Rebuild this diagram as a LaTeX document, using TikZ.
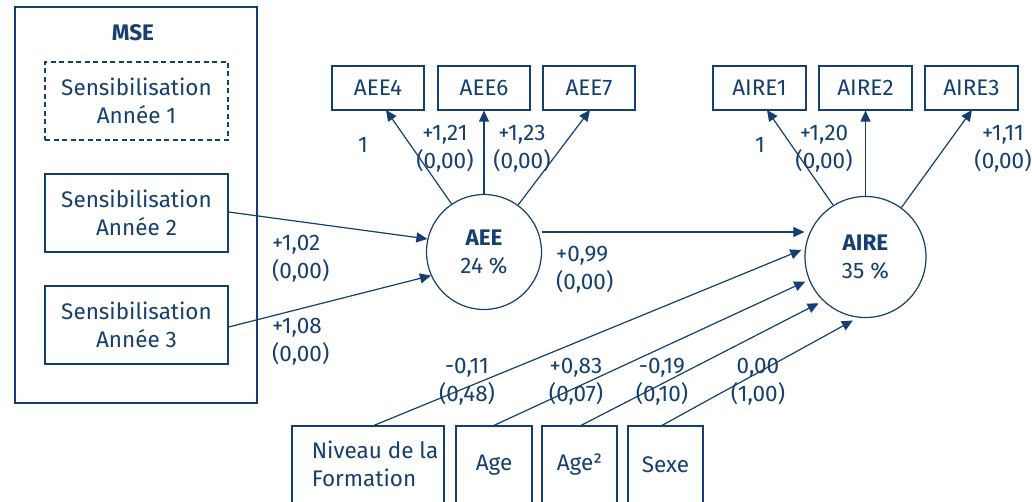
\documentclass[tikz,border=0pt]{standalone}
\usepackage{fontspec}
\setmainfont{Fira Sans}
\usetikzlibrary{arrows.meta}
\definecolor{ink}{HTML}{143F6E}
\begin{document}
\begin{tikzpicture}[x=1pt,y=-1pt,
  every node/.style={text=ink,font=\fontsize{22.5}{28}\selectfont,inner sep=0pt},
  box/.style={draw=ink,line width=1.2pt,align=center},
  latent/.style={draw=ink,circle,line width=1.2pt,align=center},
  conn/.style={draw=ink,line width=1.2pt,-{Triangle[length=11pt,width=10pt]}},
  lab/.style={align=center}]
\useasboundingbox[fill=white] (0,0) rectangle (1032,502);
% MSE group
\node[box,minimum width=242,minimum height=396] (mse) at (136,205) {};
\node[font=\fontsize{22.5}{28}\selectfont\bfseries] (msel) at (133,33) {MSE};
\node[box,dash pattern=on 5pt off 3.5pt,minimum width=183,minimum height=78] (s1) at (136.5,101) {\fontsize{22.5}{29}\selectfont Sensibilisation\\Année 1};
\node[box,minimum width=183,minimum height=78] (s2) at (136.5,213) {\fontsize{22.5}{29}\selectfont Sensibilisation\\Année 2};
\node[box,minimum width=183,minimum height=78] (s3) at (136.5,325) {\fontsize{22.5}{29}\selectfont Sensibilisation\\Année 3};
% latent
\node[latent,minimum size=115] (aee) at (484,252) {\textbf{AEE}\\24 \%};
\node[latent,minimum size=121] (aire) at (865.5,257) {\textbf{AIRE}\\35 \%};
% indicators
\node[box,minimum width=92,minimum height=44] (aee4) at (378,88) {AEE4};
\node[box,minimum width=92,minimum height=44] (aee6) at (484,88) {AEE6};
\node[box,minimum width=92,minimum height=44] (aee7) at (589,88) {AEE7};
\node[box,minimum width=93,minimum height=44] (aire1) at (759.5,88) {AIRE1};
\node[box,minimum width=93,minimum height=44] (aire2) at (865.5,88) {AIRE2};
\node[box,minimum width=93,minimum height=44] (aire3) at (971.5,88) {AIRE3};
% covariates
\node[box,minimum width=152,minimum height=90] (niv) at (368,471) {};
\node[align=left] (nivt) at (375,463.5) {Niveau de la\\Formation};
\node[box,minimum width=76,minimum height=90] (age) at (494,471) {};
\node (aget) at (494,465) {Age};
\node[box,minimum width=75,minimum height=90] (age2) at (579.5,471) {};
\node (age2t) at (579.5,465) {Age²};
\node[box,minimum width=75,minimum height=90] (sexe) at (665.5,471) {};
\node (sexet) at (665.5,465) {Sexe};
% connectors
\coordinate (a4e) at (386,110);
\coordinate (a7e) at (590,110);
\coordinate (r1e) at (767,110);
\coordinate (r3e) at (972,110);
\draw[conn] (aee.124) -- (a4e);
\draw[conn] (aee.north) -- (aee6.south);
\draw[conn] (aee.54) -- (a7e);
\draw[conn] (aire.122) -- (r1e);
\draw[conn] (aire.north) -- (aire2.south);
\draw[conn] (aire.54) -- (r3e);
\draw[conn] (s2.east |- 0,212) -- (aee.167);
\draw[conn] (s3.east |- 0,327) -- (aee.204);
\draw[conn] (aee.east |- 0,232) -- (aire.west |- 0,232);
\draw[conn,shorten >=4pt] ([xshift=6pt]niv.north) -- (aire.172);
\draw[conn,shorten >=4pt] (age.north) -- (aire.202);
\draw[conn,shorten >=5pt] ([xshift=1.5pt]age2.north) -- (aire.226);
\draw[conn,shorten >=6pt] ([xshift=-3.5pt]sexe.north) -- (aire.263);
% labels
\node (l1) at (363,145) {1};
\node[lab] (l121) at (445,149) {+1,21\\(0,00)};
\node[lab] (l123) at (522,149) {+1,23\\(0,00)};
\node[align=left,anchor=west] (l102) at (272,258.5) {+1,02\\(0,00)};
\node[align=left,anchor=west] (l108) at (272,341.5) {+1,08\\(0,00)};
\node[align=left,anchor=west] (l099) at (556,269.5) {+0,99\\(0,00)};
\node (l1b) at (760,145) {1};
\node[lab] (l120) at (824,149) {+1,20\\(0,00)};
\node[lab] (l111) at (1003,149) {+1,11\\(0,00)};
\node[lab] (l011) at (467,381.5) {-0,11\\(0,48)};
\node[lab] (l083) at (576,381.5) {+0,83\\(0,07)};
\node[lab] (l019) at (662,381.5) {-0,19\\(0,10)};
\node[lab] (l000) at (758,381.5) {0,00\\(1,00)};
\end{tikzpicture}
\end{document}
